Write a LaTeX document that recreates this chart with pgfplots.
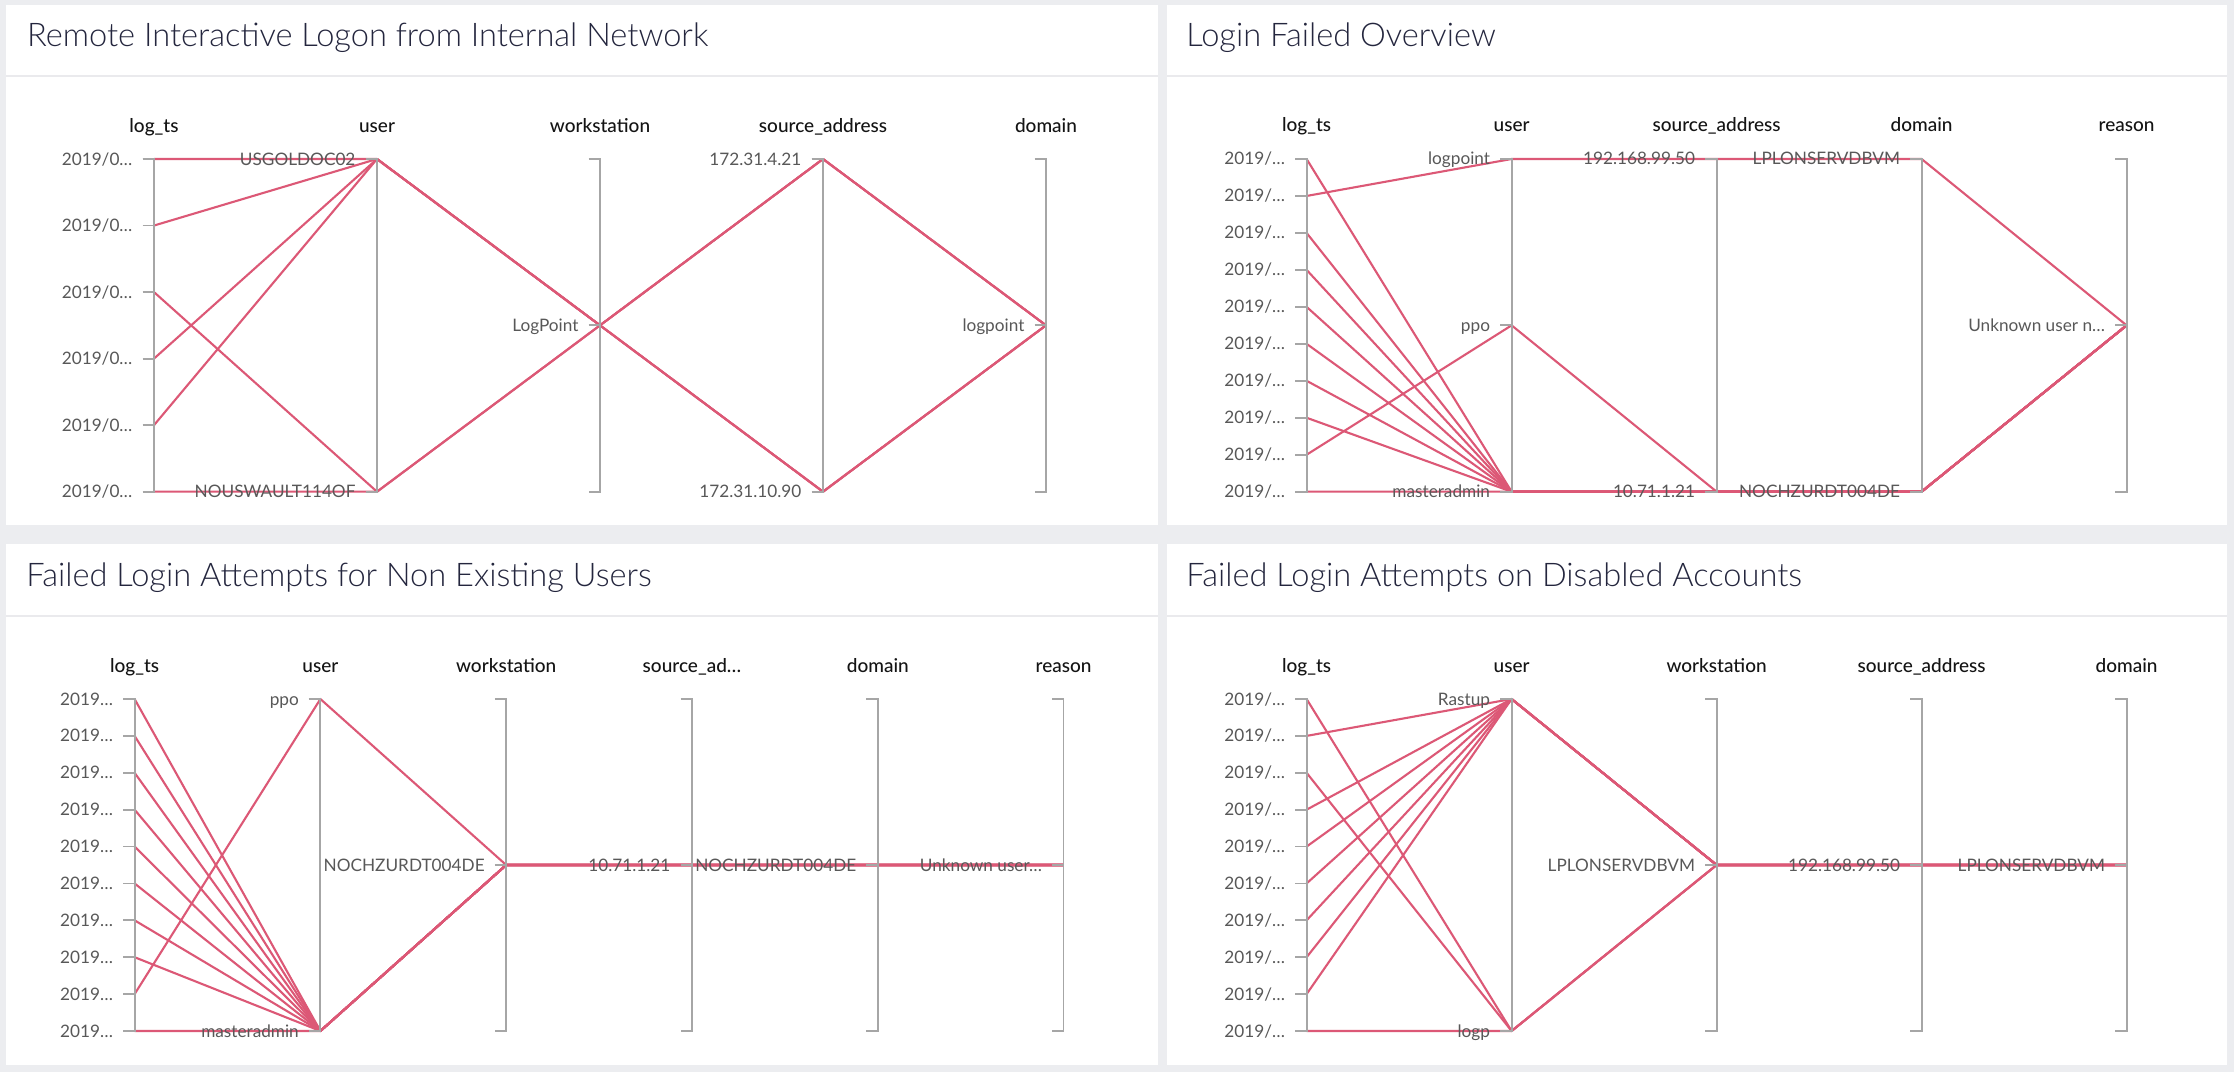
\documentclass[border=0pt]{standalone}
\usepackage{fontspec}
\setmainfont{Lato}
\newfontfamily\ltfont{Lato Light}
\newfontfamily\mdfont{Lato Medium}
\usepackage{pgfplots}
\pgfplotsset{compat=1.18}

\definecolor{bg}{RGB}{236,237,240}
\definecolor{sep}{RGB}{234,234,237}
\definecolor{ttl}{RGB}{36,38,62}
\definecolor{pc}{RGB}{220,88,118}
\definecolor{axg}{RGB}{166,166,166}
\definecolor{tkg}{RGB}{88,88,88}
\definecolor{hdr}{RGB}{20,20,20}

\tikzset{
  ptitle/.style={anchor=base west, inner sep=0pt, text=ttl, font=\ltfont\fontsize{16.3}{19}\selectfont},
  tlab/.style={anchor=base east, inner sep=0pt, text=tkg, font=\fontsize{8.6}{10}\selectfont},
  hlab/.style={anchor=base, inner sep=0pt, text=hdr, font=\mdfont\fontsize{9.5}{11}\selectfont},
}
\pgfplotsset{
  pcpanel/.style={anchor=south west, scale only axis, hide axis, clip=false,
    enlargelimits=false, ymin=0},
  pcline/.style={color=pc, line width=1.05pt, mark=none, line join=round},
}

% axis k: bracket path + header
\newcommand\pcaxis[3]{%
  \draw[axg, line width=0.9pt] ([xshift=-5.7pt]axis cs:#1,#2) -- (axis cs:#1,#2)
    -- (axis cs:#1,0) -- ([xshift=-5.7pt]axis cs:#1,0);
  \node[hlab] at ([yshift=13.5pt]axis cs:#1,#2) {#3};}
% tick on axis k at value y with its label
\newcommand\pctick[3]{%
  \draw[axg, line width=0.9pt] ([xshift=-5.7pt]axis cs:#1,#2) -- (axis cs:#1,#2);
  \node[tlab] at ([xshift=-10.6pt,yshift=-3pt]axis cs:#1,#2) {#3};}

\begin{document}
\begin{tikzpicture}

\begin{scope}[x=0.5pt, y=-0.5pt, yshift=536pt]
\fill[bg] (0,0) rectangle (2234,1072);
\fill[white] (6,5) rectangle (1158,525);
\fill[white] (1167,5) rectangle (2227,525);
\fill[white] (6,544) rectangle (1158,1065);
\fill[white] (1167,544) rectangle (2227,1065);
\fill[sep] (6,75) rectangle (1158,77);
\fill[sep] (1167,75) rectangle (2227,77);
\fill[sep] (6,615) rectangle (1158,617);
\fill[sep] (1167,615) rectangle (2227,617);
\node[ptitle] at (26.7,47) {Remote Interactive Logon from Internal Network};
\node[ptitle] at (1186,47) {Login Failed Overview};
\node[ptitle] at (26,587) {Failed Login Attempts for Non Existing Users};
\node[ptitle] at (1186,587) {Failed Login Attempts on Disabled Accounts};
\end{scope}

% ---------- Remote Interactive Logon from Internal Network
\begin{axis}[pcpanel, at={(77pt,290.15pt)}, width=446pt, height=166.35pt,
  xmin=0, xmax=4, ymax=5]
\addplot[pcline] coordinates {(0,5) (1,5) (2,2.5) (3,5) (4,2.5)};
\addplot[pcline] coordinates {(0,4) (1,5) (2,2.5) (3,5) (4,2.5)};
\addplot[pcline] coordinates {(0,3) (1,0) (2,2.5) (3,0) (4,2.5)};
\addplot[pcline] coordinates {(0,2) (1,5) (2,2.5) (3,5) (4,2.5)};
\addplot[pcline] coordinates {(0,1) (1,5) (2,2.5) (3,0) (4,2.5)};
\addplot[pcline] coordinates {(0,0) (1,0) (2,2.5) (3,0) (4,2.5)};
\pcaxis{0}{5}{log\_ts}
\pcaxis{1}{5}{user}
\pcaxis{2}{5}{workstation}
\pcaxis{3}{5}{source\_address}
\pcaxis{4}{5}{domain}
\pctick{0}{5}{2019/0…}
\pctick{0}{4}{2019/0…}
\pctick{0}{3}{2019/0…}
\pctick{0}{2}{2019/0…}
\pctick{0}{1}{2019/0…}
\pctick{0}{0}{2019/0…}
\pctick{1}{5}{USGOLDOC02}
\pctick{1}{0}{NOUSWAULT114OF}
\pctick{2}{2.5}{LogPoint}
\pctick{3}{5}{172.31.4.21}
\pctick{3}{0}{172.31.10.90}
\pctick{4}{2.5}{logpoint}
\end{axis}

% ---------- Login Failed Overview
\begin{axis}[pcpanel, at={(653.3pt,290.15pt)}, width=410pt, height=166.35pt,
  xmin=0, xmax=4, ymax=9]
\addplot[pcline] coordinates {(0,9) (1,0) (2,0) (3,0) (4,4.5)};
\addplot[pcline] coordinates {(0,8) (1,9) (2,9) (3,9) (4,4.5)};
\addplot[pcline] coordinates {(0,7) (1,0) (2,0) (3,0) (4,4.5)};
\addplot[pcline] coordinates {(0,6) (1,0) (2,0) (3,0) (4,4.5)};
\addplot[pcline] coordinates {(0,5) (1,0) (2,0) (3,0) (4,4.5)};
\addplot[pcline] coordinates {(0,4) (1,0) (2,0) (3,0) (4,4.5)};
\addplot[pcline] coordinates {(0,3) (1,0) (2,0) (3,0) (4,4.5)};
\addplot[pcline] coordinates {(0,2) (1,0) (2,0) (3,0) (4,4.5)};
\addplot[pcline] coordinates {(0,1) (1,4.5) (2,0) (3,0) (4,4.5)};
\addplot[pcline] coordinates {(0,0) (1,0) (2,0) (3,0) (4,4.5)};
\pcaxis{0}{9}{log\_ts}
\pcaxis{1}{9}{user}
\pcaxis{2}{9}{source\_address}
\pcaxis{3}{9}{domain}
\pcaxis{4}{9}{reason}
\pctick{0}{9}{2019/…}
\pctick{0}{8}{2019/…}
\pctick{0}{7}{2019/…}
\pctick{0}{6}{2019/…}
\pctick{0}{5}{2019/…}
\pctick{0}{4}{2019/…}
\pctick{0}{3}{2019/…}
\pctick{0}{2}{2019/…}
\pctick{0}{1}{2019/…}
\pctick{0}{0}{2019/…}
\pctick{1}{9}{logpoint}
\pctick{1}{4.5}{ppo}
\pctick{1}{0}{masteradmin}
\pctick{2}{9}{192.168.99.50}
\pctick{2}{0}{10.71.1.21}
\pctick{3}{9}{LPLONSERVDBVM}
\pctick{3}{0}{NOCHZURDT004DE}
\pctick{4}{4.5}{Unknown user n…}
\end{axis}

% ---------- Failed Login Attempts for Non Existing Users
\begin{axis}[pcpanel, at={(67.3pt,20.5pt)}, width=464.5pt, height=166pt,
  xmin=0, xmax=5, ymax=9]
\addplot[pcline] coordinates {(0,9) (1,0) (2,4.5) (3,4.5) (4,4.5) (5,4.5)};
\addplot[pcline] coordinates {(0,8) (1,0) (2,4.5) (3,4.5) (4,4.5) (5,4.5)};
\addplot[pcline] coordinates {(0,7) (1,0) (2,4.5) (3,4.5) (4,4.5) (5,4.5)};
\addplot[pcline] coordinates {(0,6) (1,0) (2,4.5) (3,4.5) (4,4.5) (5,4.5)};
\addplot[pcline] coordinates {(0,5) (1,0) (2,4.5) (3,4.5) (4,4.5) (5,4.5)};
\addplot[pcline] coordinates {(0,4) (1,0) (2,4.5) (3,4.5) (4,4.5) (5,4.5)};
\addplot[pcline] coordinates {(0,3) (1,0) (2,4.5) (3,4.5) (4,4.5) (5,4.5)};
\addplot[pcline] coordinates {(0,2) (1,0) (2,4.5) (3,4.5) (4,4.5) (5,4.5)};
\addplot[pcline] coordinates {(0,1) (1,9) (2,4.5) (3,4.5) (4,4.5) (5,4.5)};
\addplot[pcline] coordinates {(0,0) (1,0) (2,4.5) (3,4.5) (4,4.5) (5,4.5)};
\pcaxis{0}{9}{log\_ts}
\pcaxis{1}{9}{user}
\pcaxis{2}{9}{workstation}
\pcaxis{3}{9}{source\_ad…}
\pcaxis{4}{9}{domain}
\pcaxis{5}{9}{reason}
\pctick{0}{9}{2019…}
\pctick{0}{8}{2019…}
\pctick{0}{7}{2019…}
\pctick{0}{6}{2019…}
\pctick{0}{5}{2019…}
\pctick{0}{4}{2019…}
\pctick{0}{3}{2019…}
\pctick{0}{2}{2019…}
\pctick{0}{1}{2019…}
\pctick{0}{0}{2019…}
\pctick{1}{9}{ppo}
\pctick{1}{0}{masteradmin}
\pctick{2}{4.5}{NOCHZURDT004DE}
\pctick{3}{4.5}{10.71.1.21}
\pctick{4}{4.5}{NOCHZURDT004DE}
\pctick{5}{4.5}{Unknown user…}
\end{axis}

% ---------- Failed Login Attempts on Disabled Accounts
\begin{axis}[pcpanel, at={(653.3pt,20.5pt)}, width=410pt, height=166pt,
  xmin=0, xmax=4, ymax=9]
\addplot[pcline] coordinates {(0,9) (1,0) (2,4.5) (3,4.5) (4,4.5)};
\addplot[pcline] coordinates {(0,8) (1,9) (2,4.5) (3,4.5) (4,4.5)};
\addplot[pcline] coordinates {(0,7) (1,0) (2,4.5) (3,4.5) (4,4.5)};
\addplot[pcline] coordinates {(0,6) (1,9) (2,4.5) (3,4.5) (4,4.5)};
\addplot[pcline] coordinates {(0,5) (1,9) (2,4.5) (3,4.5) (4,4.5)};
\addplot[pcline] coordinates {(0,4) (1,9) (2,4.5) (3,4.5) (4,4.5)};
\addplot[pcline] coordinates {(0,3) (1,9) (2,4.5) (3,4.5) (4,4.5)};
\addplot[pcline] coordinates {(0,2) (1,9) (2,4.5) (3,4.5) (4,4.5)};
\addplot[pcline] coordinates {(0,1) (1,9) (2,4.5) (3,4.5) (4,4.5)};
\addplot[pcline] coordinates {(0,0) (1,0) (2,4.5) (3,4.5) (4,4.5)};
\pcaxis{0}{9}{log\_ts}
\pcaxis{1}{9}{user}
\pcaxis{2}{9}{workstation}
\pcaxis{3}{9}{source\_address}
\pcaxis{4}{9}{domain}
\pctick{0}{9}{2019/…}
\pctick{0}{8}{2019/…}
\pctick{0}{7}{2019/…}
\pctick{0}{6}{2019/…}
\pctick{0}{5}{2019/…}
\pctick{0}{4}{2019/…}
\pctick{0}{3}{2019/…}
\pctick{0}{2}{2019/…}
\pctick{0}{1}{2019/…}
\pctick{0}{0}{2019/…}
\pctick{1}{9}{Rastup}
\pctick{1}{0}{logp}
\pctick{2}{4.5}{LPLONSERVDBVM}
\pctick{3}{4.5}{192.168.99.50}
\pctick{4}{4.5}{LPLONSERVDBVM}
\end{axis}

\end{tikzpicture}
\end{document}
